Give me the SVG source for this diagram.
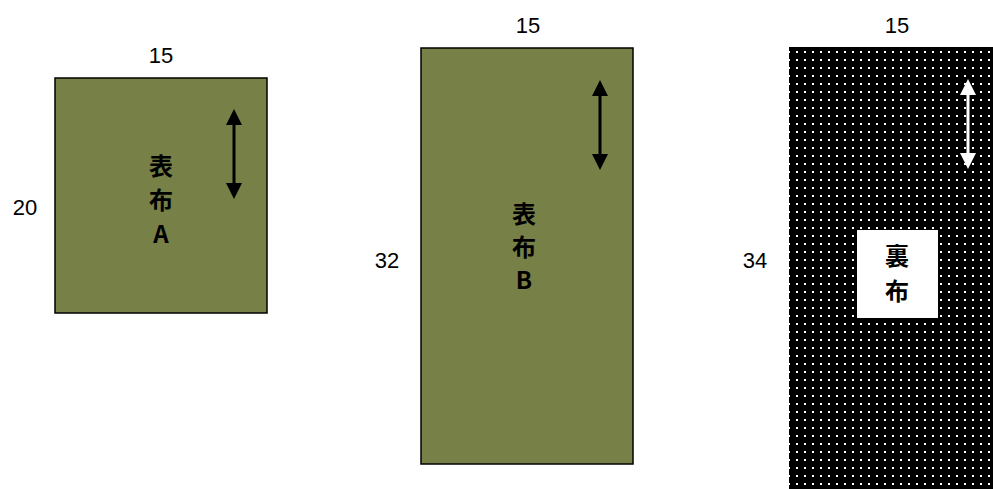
<svg xmlns="http://www.w3.org/2000/svg" width="993" height="489" viewBox="0 0 993 489">
<style>
.dim{font-family:"Liberation Sans",Arial,sans-serif;font-size:22px;fill:#000;text-anchor:middle}
.lbl{font-family:"Noto Sans CJK JP","Liberation Sans",sans-serif;font-size:24px;font-weight:bold;fill:#000;text-anchor:middle}
.olive{fill:#768047;stroke:#000;stroke-width:1.5}
</style>
<defs>
<pattern id="dots" x="796" y="51" width="8" height="8" patternUnits="userSpaceOnUse">
<rect width="8" height="8" fill="#000"/>
<rect x="0" y="0" width="2" height="2" fill="#fff"/>
</pattern>
</defs>
<rect width="993" height="489" fill="#fff"/>
<g id="nodeA">
<rect class="olive" x="55" y="78" width="212" height="235"/>
<text class="lbl" x="161" y="175">表</text>
<text class="lbl" x="161" y="209">布</text>
<text class="lbl" x="161" y="243">A</text>
</g>
<g id="nodeB">
<rect class="olive" x="421" y="48" width="212" height="416"/>
<text class="lbl" x="524" y="223">表</text>
<text class="lbl" x="524" y="256">布</text>
<text class="lbl" x="524" y="289">B</text>
</g>
<g id="nodeBack">
<rect x="789" y="47" width="212" height="450" fill="url(#dots)"/>
<rect x="857" y="230" width="81" height="88" fill="#fff"/>
<text class="lbl" x="897" y="265">裏</text>
<text class="lbl" x="897" y="300">布</text>
</g>
<g id="dims">
<text class="dim" x="161" y="63">15</text>
<text class="dim" x="528" y="33">15</text>
<text class="dim" x="897" y="33">15</text>
<text class="dim" x="25" y="215">20</text>
<text class="dim" x="387" y="268">32</text>
<text class="dim" x="755" y="268">34</text>
</g>
<g id="connectors">
<line x1="234" y1="122" x2="234" y2="186" stroke="#000" stroke-width="3"/>
<polygon points="234,109 226,125 242,125" fill="#000"/>
<polygon points="234,199 226,183 242,183" fill="#000"/>
<line x1="600" y1="93" x2="600" y2="157" stroke="#000" stroke-width="3"/>
<polygon points="600,80 592,96 608,96" fill="#000"/>
<polygon points="600,170 592,154 608,154" fill="#000"/>
<line x1="968" y1="92" x2="968" y2="156" stroke="#fff" stroke-width="3"/>
<polygon points="968,79 960,95 976,95" fill="#fff"/>
<polygon points="968,169 960,153 976,153" fill="#fff"/>
</g>
</svg>
